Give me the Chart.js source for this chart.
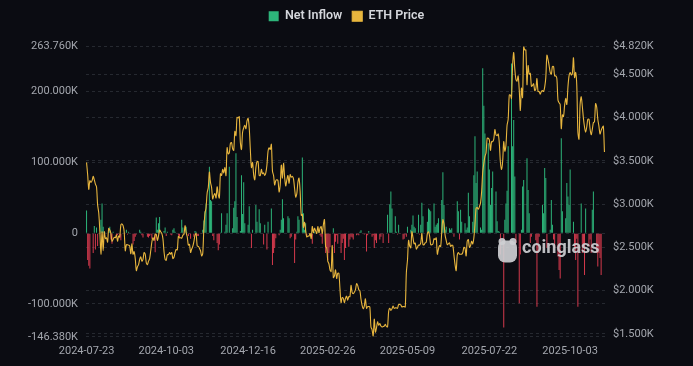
<!doctype html>
<html lang="en">
<head>
<meta charset="utf-8">
<title>ETH Net Inflow vs ETH Price</title>
<script src="https://cdn.jsdelivr.net/npm/chart.js@4"></script>
<style>
  html, body { margin: 0; padding: 0; background: #0b0c12; }
  #wrap { width: 693px; height: 366px; }
</style>
</head>
<body>
<div id="wrap"><canvas id="flowChart" width="693" height="366"></canvas></div>
<script>
// first day of the series, one point per calendar day
var startDate = '2024-07-23';

var xTickLabels = ['2024-07-23', '2024-10-03', '2024-12-16', '2025-02-26', '2025-05-09', '2025-07-22', '2025-10-03'];
var inflowTicks = [-146.38, -100, 0, 100, 200, 263.76];   // K
var priceTicks = [1500, 2000, 2500, 3000, 3500, 4000, 4500, 4820];
var priceAxisMin = 1466;

// net inflow in thousands, one row per week (Mon..Sun), first row starts Tue 2024-07-23
var netInflow = [
  32, -38, -46, -50, 0, 0,
  -28, 10, -23, 8, -18, 0, 0,
  19, 42, 9, -1, 1, 0, 0,
  2, 9, -9, -15, 2, 0, 0,
  -5, -3, -1, -7, -10, 0, 0,
  1, -1, 5, -2, 2, 0, 0,
  0, -16, -11, -5, -2, 0, 0,
  5, 2, -3, -6, 1, 0, 0,
  -5, -6, -4, -2, -8, 0, 0,
  -27, 22, 5, 14, 23, 0, 0,
  0, 3, 8, -4, 2, 0, 0,
  -2, -3, 5, 7, 2, 0, 0,
  -3, -5, 1, 19, 8, 0, 0,
  9, 1, -4, -1, -8, 0, 0,
  -5, 3, 2, -4, -4, 0, 0,
  -1, 5, 18, 31, 42, 0, 0,
  94, 47, 45, -4, -10, 0, 0,
  -14, -24, -16, 1, 28, 0, 0,
  2, 12, 28, 0, 94, 0, 0,
  7, 36, 45, 113, 23, 0, 0,
  3, 82, 27, 72, 14, 0, 0,
  12, 38, 1, -21, 5, 0, 0,
  40, 16, 0, 34, 14, 0, 0,
  -16, 12, 0, -23, 16, 0, 0,
  35, -45, -28, -21, -7, 0, 0,
  -3, 5, 19, 48, 21, 0, 0,
  0, 24, 21, -7, -5, 0, 0,
  -42, -9, 2, 24, 19, 0, 0,
  107, 28, 5, 14, -3, 0, 0,
  -3, -6, -15, 4, 2, 0, 0,
  0, 2, -3, -5, -15, 0, 0,
  -28, -21, -38, -28, -20, 0, 0,
  7, -28, -12, -3, -15, 0, 0,
  -28, -14, -8, -38, -21, 0, 0,
  -19, -9, -5, -6, -9, 0, 0,
  -3, -2, -3, 2, 4, 0, 0,
  -2, -1, -26, -3, 3, 0, 0,
  -5, -3, -21, -10, -14, 0, 0,
  -9, -5, -1, -14, 0, 0, 0,
  26, -14, 41, 59, 35, 0, 0,
  24, 2, -2, 12, -1, 0, 0,
  -9, -8, -2, -5, 9, 0, 0,
  5, 12, 25, 9, 7, 0, 0,
  26, -2, 12, 43, 24, 0, 0,
  0, 16, 35, 33, 31, 0, 0,
  42, 9, 12, 14, 21, 0, 0,
  47, 86, 40, 5, 9, 0, 0,
  7, 5, 7, 0, -5, 0, 0,
  45, 31, -9, 33, 16, 0, 0,
  14, 5, 8, 57, 24, 0, 0,
  16, 82, 137, 71, 87, 0, 0,
  8, 5, 233, 180, 141, 0, 0,
  127, 90, 40, 64, 87, 0, 0,
  59, 17, 3, 2, -30, 0, 0,
  -133.07, 19, 42, 60, 123, 0, 0,
  239.78, 123, 160, 80, -14, 0, 0,
  -99, -30, 5, 66, 75, 0, 0,
  106, 61, 28, -14, -5, 0, 0,
  0, -10, -104, -28, -5, 0, 0,
  40, 28, 92, 78, -21, 0, 0,
  5, 47, 12, -9, -21, 0, 0,
  -33, -52, -64, 134, 31, 0, 0,
  21, 71, 52, 40, 90, 0, 0,
  16, -20, -38, -8, -104, 0, 0,
  42, -28, -19, -59, 35, 0, 0,
  -19, -9, -28, 33, 59, 0, 0,
  -28, -47, -28, -35, -59, 0, 0,
  0
];

// daily ETH price, one row per month
var ethPrice = [
  3480, 3340, 3170, 3270, 3250, 3270, 3320, 3280, 3230,
  3200, 2990, 2900, 2690, 2420, 2680, 2460, 2680, 2600, 2610, 2560, 2720, 2700, 2660, 2570, 2590, 2615, 2610, 2640, 2570, 2630, 2620, 2760, 2770, 2750, 2680, 2460, 2530, 2530, 2525, 2515,
  2425, 2540, 2420, 2450, 2370, 2230, 2275, 2300, 2360, 2390, 2340, 2360, 2440, 2420, 2320, 2300, 2340, 2370, 2460, 2560, 2610, 2580, 2650, 2650, 2580, 2630, 2700, 2680, 2660, 2600,
  2450, 2360, 2350, 2415, 2415, 2440, 2420, 2440, 2370, 2385, 2440, 2475, 2470, 2630, 2610, 2610, 2605, 2640, 2650, 2750, 2670, 2620, 2525, 2535, 2440, 2480, 2510, 2565, 2640, 2660, 2515,
  2510, 2490, 2460, 2400, 2430, 2720, 2890, 2960, 3130, 3190, 3370, 3250, 3190, 3060, 3100, 3120, 3070, 3200, 3110, 3070, 3350, 3330, 3400, 3360, 3420, 3330, 3650, 3580, 3590, 3700,
  3710, 3640, 3620, 3840, 3790, 4000, 3995, 4010, 3710, 3630, 3830, 3880, 3910, 3870, 3960, 3990, 3880, 3630, 3420, 3480, 3340, 3280, 3420, 3490, 3490, 3330, 3330, 3400, 3350, 3360, 3330,
  3360, 3450, 3610, 3650, 3630, 3690, 3380, 3330, 3220, 3270, 3280, 3270, 3140, 3220, 3450, 3300, 3470, 3310, 3210, 3280, 3330, 3240, 3340, 3310, 3320, 3290, 3180, 3080, 3120, 3250, 3300,
  3150, 2870, 2880, 2730, 2790, 2690, 2620, 2630, 2630, 2660, 2600, 2740, 2670, 2720, 2690, 2660, 2740, 2670, 2720, 2740, 2660, 2760, 2820, 2510, 2490, 2340, 2310, 2240,
  2220, 2520, 2150, 2170, 2240, 2140, 2200, 2200, 2020, 1860, 1920, 1910, 1860, 1910, 1935, 1890, 1930, 1930, 2060, 1980, 1965, 1980, 2010, 2080, 2060, 2010, 2000, 1900, 1830, 1790, 1820,
  1905, 1795, 1815, 1815, 1810, 1580, 1550, 1475, 1670, 1520, 1570, 1640, 1600, 1620, 1590, 1580, 1585, 1590, 1610, 1585, 1580, 1760, 1795, 1770, 1790, 1820, 1795, 1800, 1800, 1795,
  1840, 1840, 1835, 1810, 1815, 1815, 1810, 2210, 2350, 2580, 2515, 2495, 2680, 2610, 2540, 2550, 2480, 2500, 2525, 2525, 2550, 2660, 2530, 2530, 2550, 2560, 2660, 2680, 2630, 2530, 2530,
  2540, 2600, 2590, 2610, 2420, 2480, 2520, 2510, 2680, 2820, 2770, 2640, 2580, 2530, 2540, 2550, 2510, 2525, 2520, 2410, 2300, 2230, 2410, 2440, 2420, 2420, 2420, 2440, 2500, 2490,
  2400, 2570, 2590, 2500, 2520, 2570, 2540, 2610, 2770, 2950, 2960, 2940, 2970, 3010, 3140, 3370, 3470, 3550, 3590, 3760, 3760, 3740, 3620, 3720, 3720, 3750, 3860, 3800, 3790, 3810, 3700,
  3480, 3400, 3490, 3720, 3610, 3680, 3910, 3980, 4260, 4260, 4220, 4600, 4750, 4560, 4440, 4420, 4480, 4320, 4080, 4340, 4230, 4820, 4780, 4780, 4380, 4600, 4500, 4510, 4360, 4370, 4390,
  4310, 4330, 4450, 4300, 4300, 4270, 4300, 4310, 4300, 4350, 4460, 4720, 4670, 4600, 4520, 4500, 4590, 4590, 4480, 4480, 4450, 4200, 4170, 4150, 3870, 4030, 4010, 4140, 4220, 4150,
  4350, 4480, 4520, 4490, 4510, 4690, 4460, 4520, 4370, 3830, 3750, 4150, 4240, 4130, 3990, 3890, 3830, 3890, 3980, 3980, 3870, 3800, 3860, 3940, 3950, 4160, 4120, 3980, 3900, 3810, 3850,
  3880, 3900, 3600
];

var dates = [];
var t0 = new Date(startDate + 'T00:00:00Z').getTime();
for (var i = 0; i < ethPrice.length; i++) {
  dates.push(new Date(t0 + i * 86400000).toISOString().slice(0, 10));
}

var green = '#2db57a';
var red = '#d63a4d';
var gold = '#e8b63e';
var gridColor = '#262930';
var tickColor = '#a4a7ae';

Chart.defaults.font.family = 'Roboto, "DejaVu Sans", sans-serif';

// extra room under the legend so the plot starts lower
var legendGap = {
  id: 'legendGap',
  afterInit: function(chart) {
    var lg = chart.legend;
    if (!lg) return;
    var fit = lg.fit;
    lg.fit = function() { fit.call(this); this.height += 14; };
  }
};

// grey watermark drawn over the bars
var watermark = {
  id: 'watermark',
  afterDatasetsDraw: function(chart) {
    var a = chart.chartArea, c = chart.ctx;
    c.save();
    c.fillStyle = 'rgba(206,207,211,0.92)';
    var lx = a.right - 107, ly = a.top + 192;
    c.beginPath();
    c.roundRect(lx, ly + 2, 19, 22, 7);
    c.fill();
    c.beginPath();
    c.arc(lx + 4, ly + 3, 3.5, 0, Math.PI * 2);
    c.arc(lx + 15, ly + 3, 3.5, 0, Math.PI * 2);
    c.fill();
    c.font = 'bold 18px Roboto, sans-serif';
    c.textBaseline = 'middle';
    c.fillText('coinglass', a.right - 83, a.top + 202);
    c.restore();
  }
};

var ctx = document.getElementById('flowChart').getContext('2d');
new Chart(ctx, {
  data: {
    labels: dates,
    datasets: [{
      type: 'line',
      label: 'ETH Price',
      data: ethPrice,
      yAxisID: 'y1',
      borderColor: gold,
      backgroundColor: gold,
      borderWidth: 1.1,
      pointRadius: 0,
      tension: 0.3
    }, {
      type: 'bar',
      label: 'Net Inflow',
      data: netInflow,
      yAxisID: 'y',
      backgroundColor: function(c) { return c.raw < 0 ? red : green; },
      categoryPercentage: 0.9,
      barPercentage: 1
    }]
  },
  options: {
    responsive: false,
    animation: false,
    layout: { padding: { top: 0 } },
    plugins: {
      tooltip: { enabled: false },
      legend: {
        position: 'top',
        labels: {
          color: '#d4d6db',
          font: { size: 12.5, weight: '600' },
          boxWidth: 10,
          boxHeight: 10,
          padding: 10,
          sort: function(a, b) { return b.datasetIndex - a.datasetIndex; }
        }
      }
    },
    scales: {
      x: {
        offset: true,
        grid: { display: false, drawTicks: false },
        border: { display: false },
        ticks: {
          autoSkip: false,
          maxRotation: 0,
          minRotation: 0,
          color: tickColor,
          font: { size: 11 },
          padding: 8,
          callback: function(v) {
            var l = this.getLabelForValue(v);
            return xTickLabels.indexOf(l) >= 0 ? l : null;
          }
        }
      },
      y: {
        position: 'left',
        min: inflowTicks[0],
        max: inflowTicks[inflowTicks.length - 1],
        afterBuildTicks: function(s) { s.ticks = inflowTicks.map(function(v) { return { value: v }; }); },
        afterFit: function(s) { s.width = 86; },
        grid: { color: gridColor, drawTicks: false },
        border: { display: false, dash: [3, 3] },
        ticks: {
          color: tickColor,
          font: { size: 11 },
          padding: 8,
          callback: function(v) { return v === 0 ? '0' : v.toFixed(3) + 'K'; }
        }
      },
      y1: {
        position: 'right',
        min: priceAxisMin,
        max: priceTicks[priceTicks.length - 1],
        afterBuildTicks: function(s) { s.ticks = priceTicks.map(function(v) { return { value: v }; }); },
        afterFit: function(s) { s.width = 88; },
        grid: { color: gridColor, drawTicks: false },
        border: { display: false, dash: [3, 3] },
        ticks: {
          color: tickColor,
          font: { size: 11 },
          padding: 8,
          callback: function(v) { return '$' + (v / 1000).toFixed(3) + 'K'; }
        }
      }
    }
  },
  plugins: [legendGap, watermark]
});
</script>
</body>
</html>
